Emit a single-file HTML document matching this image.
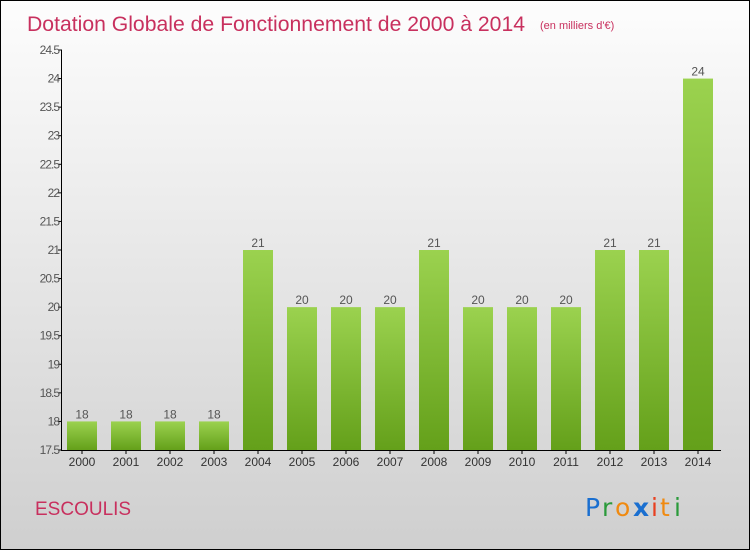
<!DOCTYPE html>
<html><head><meta charset="utf-8"><style>
body{margin:0}
#c{width:748px;height:548px;border:1px solid #000;background:linear-gradient(#fdfdfd,#cfcfcf);position:relative;font-family:"Liberation Sans",sans-serif}
</style></head><body>
<div id="c">
<svg width="748" height="548" style="position:absolute;left:0;top:0" id="svg">
<defs><linearGradient id="bg" x1="0" y1="0" x2="0" y2="1"><stop offset="0" stop-color="#9bd24f"/><stop offset="1" stop-color="#64a01a"/></linearGradient></defs>
<text x="26" y="30" font-size="21" fill="#c8305e" textLength="498" lengthAdjust="spacingAndGlyphs">Dotation Globale de Fonctionnement de 2000 à 2014</text>
<text x="539" y="28" font-size="11" fill="#c8305e">(en milliers d'€)</text>
<text x="34" y="514" font-size="19" fill="#c8305e">ESCOULIS</text>
<g font-size="25" font-family="'DejaVu Sans',sans-serif">
<text x="584" y="515" fill="#1a6fd0">P</text><text x="601" y="515" fill="#2a9a3a">r</text><text x="614" y="515" fill="#f08a10">o</text><text x="632" y="515" fill="#1a6fd0" font-weight="bold">x</text><text x="650" y="515" fill="#e84020">i</text><text x="659" y="515" fill="#f08a10">t</text><text x="673" y="515" fill="#2a9a3a">i</text>
</g>
<g id="plot"></g>
</svg>
</div>
<script>
const years=["2000","2001","2002","2003","2004","2005","2006","2007","2008","2009","2010","2011","2012","2013","2014"];
const values=[18,18,18,18,21,20,20,20,21,20,20,20,21,21,24];
const ticks=[17.5,18,18.5,19,19.5,20,20.5,21,21.5,22,22.5,23,23.5,24,24.5];
const NS="http://www.w3.org/2000/svg";
const g=document.getElementById('plot');
const y=v=>449-(v-17.5)*(400/7);
const x=i=>81+i*44;
function mk(t,a,txt){const e=document.createElementNS(NS,t);for(const k in a)e.setAttribute(k,a[k]);if(txt!==undefined)e.textContent=txt;g.appendChild(e);return e;}
values.forEach((v,i)=>{
 const r=mk('rect',{x:x(i)-15,y:y(v),width:30,height:y(17.5)-y(v),fill:'url(#bg)'});
 
 
 const t=mk('text',{x:x(i),y:y(v)-3,'text-anchor':'middle','font-size':12,fill:'#555'},String(v));
 
 
 const l=mk('text',{x:x(i),y:465,'text-anchor':'middle','font-size':12,fill:'#333'},years[i]);
 
 
 mk('line',{x1:x(i),x2:x(i),y1:449,y2:453,stroke:'#000'});
});
ticks.forEach(v=>{
 mk('line',{x1:57,x2:61,y1:y(v),y2:y(v),stroke:'#000'});
 const t=mk('text',{x:58,y:y(v)+4,'text-anchor':'end','font-size':12,fill:'#555','letter-spacing':'-1'},String(v));
 
 
});
const ya=mk('line',{x1:60.5,x2:60.5,y1:y(24.5),y2:449.5,stroke:'#000'});


const xa=mk('line',{x1:60,x2:720,y1:449.5,y2:449.5,stroke:'#000'});


</script>
</body></html>
